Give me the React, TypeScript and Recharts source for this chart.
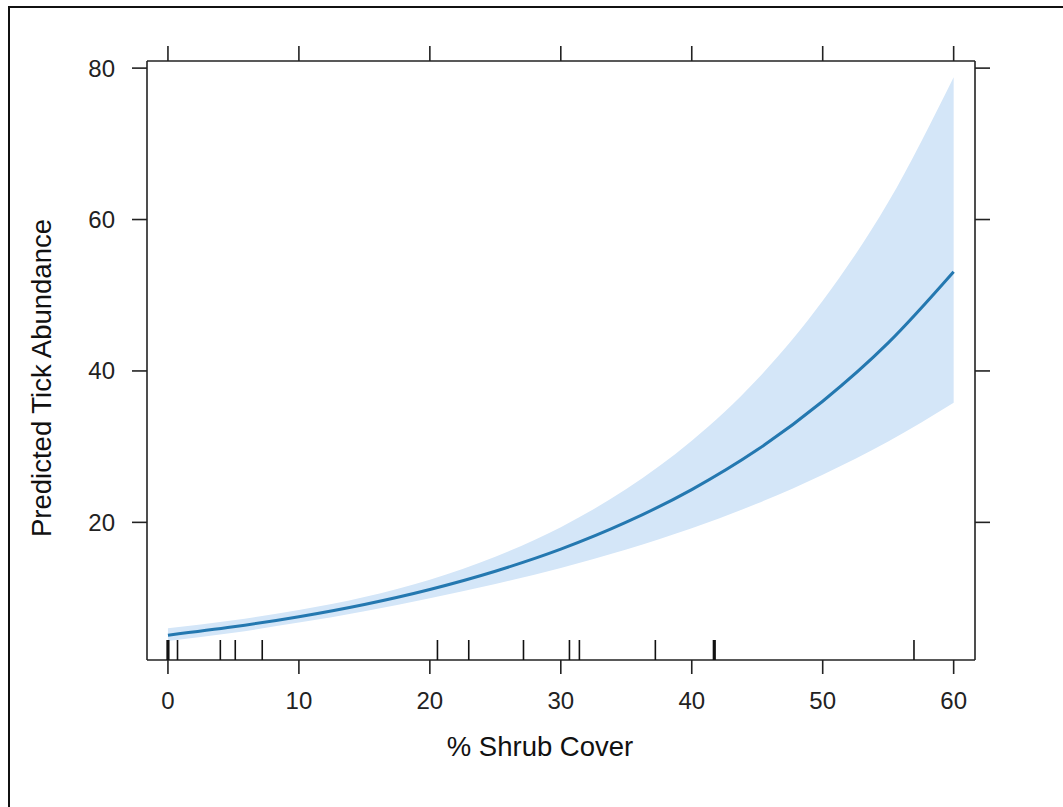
import React from 'react';
import {
  ComposedChart,
  Area,
  Line,
  Scatter,
  XAxis,
  YAxis,
  Label,
} from 'recharts';

// shrub cover grid (%)
const shrubCover = [0, 5, 10, 15, 20, 25, 30, 35, 40, 45, 50, 55, 60];
// predicted tick abundance (fitted curve)
const predicted = [5.1, 6.2, 7.54, 9.16, 11.14, 13.55, 16.46, 20.02, 24.33, 29.58, 36.0, 43.7, 53.1];
// confidence band
const lowerCI = [4.33, 5.43, 6.76, 8.27, 9.98, 11.87, 13.98, 16.42, 19.23, 22.49, 26.3, 30.67, 35.8];
const upperCI = [6.0, 7.08, 8.42, 10.14, 12.43, 15.47, 19.37, 24.4, 30.78, 38.9, 49.28, 62.27, 78.8];
// observed shrub cover values (rug) and how many sites share each value
const rugValues = [0, 0.73, 4.0, 5.14, 7.2, 20.58, 22.97, 27.15, 30.66, 31.42, 37.22, 41.72, 56.97];
const rugCounts = [2, 1, 1, 1, 1, 1, 1, 1, 1, 1, 1, 2, 1];

const xTicks = [0, 10, 20, 30, 40, 50, 60];
const yTicks = [20, 40, 60, 80];

const X_DOMAIN: [number, number] = [-1.6, 61.63];
const Y_DOMAIN: [number, number] = [1.82, 80.94];

const data = shrubCover.map((x, i) => ({
  x,
  fit: predicted[i],
  band: [lowerCI[i], upperCI[i]],
}));

const rugData = rugValues.map((x, i) => ({ x, y: Y_DOMAIN[0], n: rugCounts[i] }));

const axisColor = '#222';
const font = 'Liberation Sans, Arial, sans-serif';

const RugMark = (props: any) => {
  const { cx, cy, payload } = props;
  const w = payload && payload.n > 1 ? 3.2 : 1.6;
  return <line x1={cx} x2={cx} y1={cy} y2={cy - 20} stroke="#111" strokeWidth={w} />;
};

const NoTick = () => <g />;

const XTitle = (props: any) => {
  const { viewBox } = props;
  const cx = viewBox.x + viewBox.width / 2 - 21;
  return (
    <text x={cx} y={749} textAnchor="middle" dominantBaseline="middle" fontSize={27.5} fill="#111" fontFamily={font}>
      % Shrub Cover
    </text>
  );
};

const YTitle = () => {
  const cx = 44;
  const cy = 378;
  return (
    <text
      x={cx}
      y={cy}
      textAnchor="middle"
      dominantBaseline="middle"
      fontSize={27.5}
      fill="#111"
      fontFamily={font}
      transform={`rotate(-90 ${cx} ${cy})`}
    >
      Predicted Tick Abundance
    </text>
  );
};

export default function App() {
  return (
    <div style={{ position: 'absolute', left: 0, top: 0, width: 1063, height: 807, background: '#fff' }}>
      <div
        style={{
          position: 'absolute',
          left: 8,
          top: 6,
          right: 0,
          bottom: 0,
          borderLeft: '2px solid #111',
          borderTop: '2px solid #111',
        }}
      />
      <div style={{ position: 'absolute', left: 0, top: 0 }}>
        <ComposedChart
          width={1063}
          height={807}
          data={data}
          margin={{ top: 41, right: 68, bottom: 87, left: 87 }}
        >
          <XAxis
            dataKey="x"
            type="number"
            domain={X_DOMAIN}
            ticks={xTicks}
            allowDataOverflow
            height={60}
            tickSize={14}
            tickMargin={18}
            stroke={axisColor}
            strokeWidth={1.6}
            tick={{ fontSize: 24, fill: '#222', fontFamily: font }}
          >
            <Label content={<XTitle />} />
          </XAxis>
          <XAxis
            xAxisId="top"
            orientation="top"
            dataKey="x"
            type="number"
            domain={X_DOMAIN}
            ticks={xTicks}
            allowDataOverflow
            height={20}
            tickSize={15}
            stroke={axisColor}
            strokeWidth={1.6}
            tick={<NoTick />}
          />
          <YAxis
            type="number"
            domain={Y_DOMAIN}
            ticks={yTicks}
            allowDataOverflow
            width={60}
            tickSize={15}
            tickMargin={17}
            stroke={axisColor}
            strokeWidth={1.6}
            tick={{ fontSize: 24, fill: '#222', fontFamily: font }}
          >
            <Label content={<YTitle />} />
          </YAxis>
          <YAxis
            yAxisId="right"
            orientation="right"
            type="number"
            domain={Y_DOMAIN}
            ticks={yTicks}
            allowDataOverflow
            width={20}
            tickSize={15}
            stroke={axisColor}
            strokeWidth={1.6}
            tick={<NoTick />}
          />
          <Area
            type="monotone"
            dataKey="band"
            stroke="none"
            fill="#d4e6f8"
            fillOpacity={1}
            isAnimationActive={false}
          />
          {/* invisible series so the top and right frame axes get a proper scale */}
          <Line
            xAxisId="top"
            yAxisId="right"
            type="monotone"
            dataKey="fit"
            stroke="none"
            dot={false}
            activeDot={false}
            legendType="none"
            isAnimationActive={false}
          />
          <Line
            type="monotone"
            dataKey="fit"
            stroke="#2478b0"
            strokeWidth={3}
            dot={false}
            isAnimationActive={false}
          />
          <Scatter data={rugData} dataKey="y" shape={<RugMark />} isAnimationActive={false} />
        </ComposedChart>
      </div>
    </div>
  );
}
